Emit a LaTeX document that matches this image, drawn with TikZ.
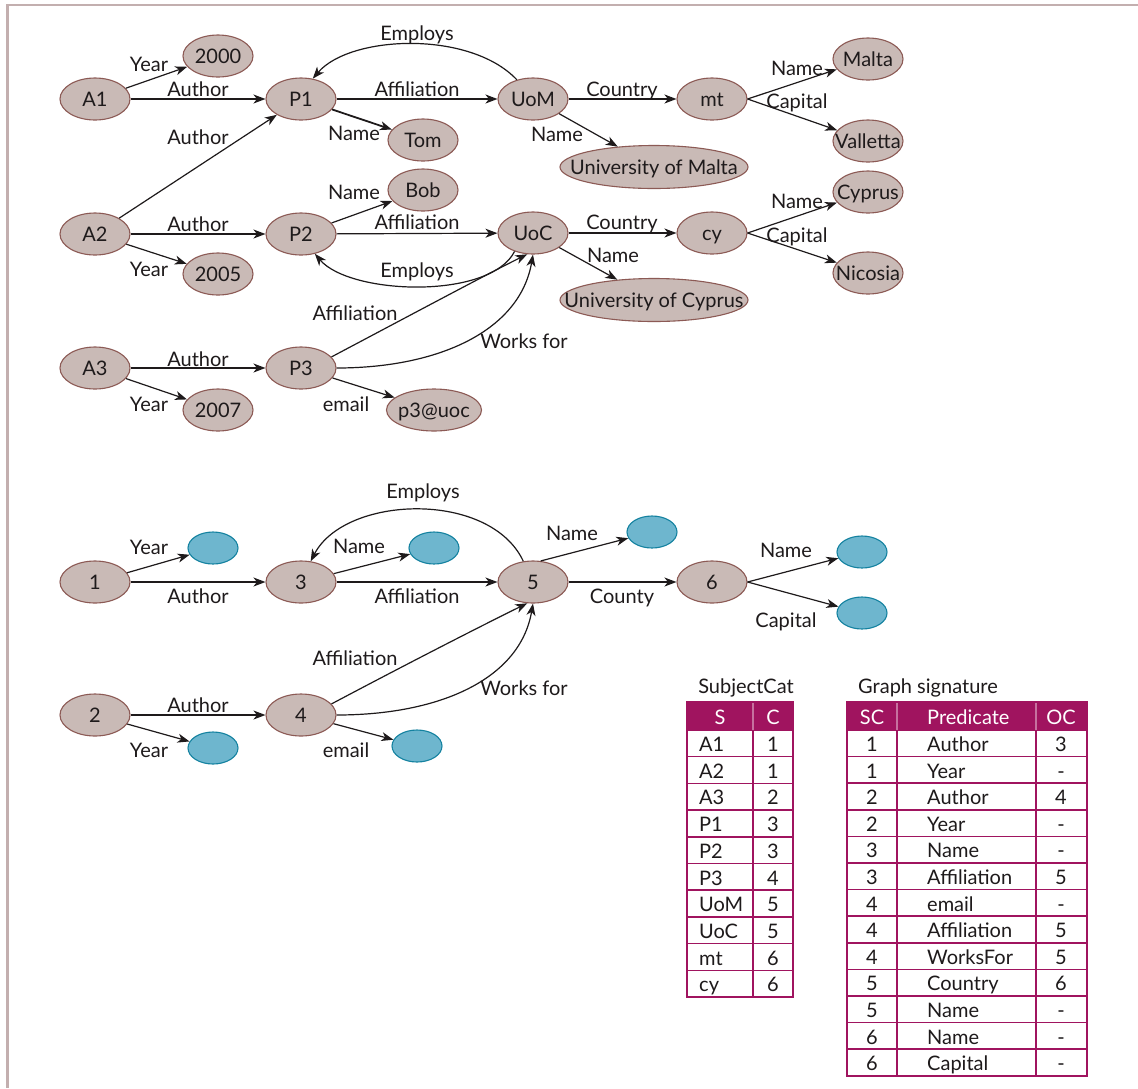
\documentclass[tikz,border=0pt]{standalone}
\usepackage{fontspec}
\setmainfont{Lato}
\usetikzlibrary{shapes.geometric,arrows.meta}
\definecolor{nodefill}{HTML}{C9BAB6}
\definecolor{nodeborder}{HTML}{8C5A55}
\definecolor{bluefill}{HTML}{6EB6CE}
\definecolor{blueborder}{HTML}{1482A0}
\definecolor{magentac}{HTML}{A0145F}
\definecolor{framec}{HTML}{C3AFAF}
\definecolor{inkc}{HTML}{1E1A1B}
\newcommand\bigfont{\fontsize{20}{24}\selectfont}
\newcommand\zt[1]{\makebox[0pt][c]{#1}}
\begin{document}
\begin{tikzpicture}[x=1pt,y=-1pt,
  gnode/.style={ellipse, draw=nodeborder, fill=nodefill, line width=1.1pt,
    minimum width=70pt, minimum height=42pt, inner sep=0pt,
    text height=14pt, text depth=0pt, font=\bigfont, text=inkc},
  bnode/.style={ellipse, draw=blueborder, fill=bluefill, line width=1.1pt,
    minimum width=50pt, minimum height=32pt, inner sep=0pt},
  arr/.style={-{Stealth[length=12pt,width=9pt,inset=3.5pt]}, line width=1.2pt, draw=inkc},
  lbl/.style={anchor=base, font=\bigfont, inner sep=0pt, text=inkc},
  lblw/.style={anchor=base west, font=\bigfont, inner sep=0pt, text=inkc},
  hdr/.style={anchor=base, font=\bigfont, inner sep=0pt, text=white},
  hdrw/.style={anchor=base west, font=\bigfont, inner sep=0pt, text=white},
  tline/.style={draw=magentac, line width=1.5pt},
  touter/.style={draw=magentac, line width=2pt},
]
\useasboundingbox (0,0) rectangle (1138,1088);
\fill[white] (0,0) rectangle (1138,1088);
\draw[framec, line width=2.5pt] (7.5,1088) -- (7.5,5) -- (1138,5);

% ---------- top graph nodes ----------
\node[gnode] (A1) at (95,99) {\zt{A1}};
\node[gnode] (P1) at (301,99) {\zt{P1}};
\node[gnode] (y2000) at (218,56) {\zt{2000}};
\node[gnode] (Tom) at (423,140) {\zt{Tom}};
\node[gnode] (UoM) at (533,99) {\zt{UoM}};
\node[gnode] (mt) at (712,99) {\zt{mt}};
\node[gnode] (Malta) at (868,59) {\zt{Malta}};
\node[gnode] (Valletta) at (868,141) {\zt{Valletta}};
\node[gnode, minimum width=188pt, minimum height=43pt] (UMalta) at (654,167) {\zt{University of Malta}};
\node[gnode] (A2) at (95,234) {\zt{A2}};
\node[gnode] (P2) at (301,234) {\zt{P2}};
\node[gnode] (Bob) at (423,190) {\zt{Bob}};
\node[gnode] (y2005) at (218,274) {\zt{2005}};
\node[gnode] (UoC) at (533,233) {\zt{UoC}};
\node[gnode] (cy) at (712,233) {\zt{cy}};
\node[gnode] (Cyprus) at (868,192) {\zt{Cyprus}};
\node[gnode] (Nicosia) at (868,273) {\zt{Nicosia}};
\node[gnode, minimum width=188pt, minimum height=43pt] (UCyprus) at (654,300) {\zt{University of Cyprus}};
\node[gnode] (A3) at (95,368) {\zt{A3}};
\node[gnode] (P3) at (301,368) {\zt{P3}};
\node[gnode] (y2007) at (218,410) {\zt{2007}};
\node[gnode, minimum width=95pt] (mail) at (434,410) {\zt{p3@uoc}};

% ---------- top graph edges ----------
\draw[arr] (A1) -- (y2000);
\draw[arr] (A1) -- (P1);
\draw[arr] (A2) -- (P1);
\draw[arr, line width=1.8pt] (P1) -- (Tom);
\draw[arr] (UoM.130) .. controls (470,30) and (350,35) .. (P1.60);
\draw[arr] (P1) -- (UoM);
\draw[arr] (UoM) -- (mt);
\draw[arr] (UoM) -- (UMalta);
\draw[arr] (mt.east) -- (Malta);
\draw[arr] (mt.east) -- (Valletta);
\draw[arr] (A2) -- (P2);
\draw[arr] (A2) -- (y2005);
\draw[arr] (P2) -- (Bob);
\draw[arr] (P2) -- (UoC);
\draw[arr] (UoC.225) .. controls (490,300) and (350,295) .. (P2.305);
\draw[arr] (UoC) -- (cy);
\draw[arr] (UoC) -- (UCyprus);
\draw[arr] (cy.east) -- (Cyprus);
\draw[arr] (cy.east) -- (Nicosia);
\draw[arr] (A3) -- (P3);
\draw[arr] (A3) -- (y2007);
\draw[arr] (P3) -- (mail);
\draw[arr] (P3.20) .. controls (420,310) and (495,270) .. (UoC.255);
\draw[arr] (P3.east) .. controls (440,368) and (520,330) .. (UoC.south);

% ---------- top graph labels ----------
\node[lbl] (t1) at (149,71) {Year};
\node[lbl] (t2) at (198,96) {Author};
\node[lbl] (t3) at (198,144) {Author};
\node[lbl] (t4) at (417,40) {Employs};
\node[lbl] (t5) at (417,96) {Affiliation};
\node[lbl] (t6) at (354,140) {Name};
\node[lbl] (t7) at (622,96) {Country};
\node[lbl] (t8) at (557,141) {Name};
\node[lbl] (t9) at (797,75) {Name};
\node[lbl] (t10) at (797,108) {Capital};
\node[lbl] (t11) at (354,199) {Name};
\node[lbl] (t12) at (417,229) {Affiliation};
\node[lbl] (t13) at (198,231) {Author};
\node[lbl] (t14) at (149,276) {Year};
\node[lbl] (t15) at (417,277) {Employs};
\node[lbl] (t16) at (622,229) {Country};
\node[lbl] (t17) at (613,262) {Name};
\node[lbl] (t18) at (797,208) {Name};
\node[lbl] (t19) at (797,242) {Capital};
\node[lbl] (t20) at (355,320) {Affiliation};
\node[lbl] (t21) at (524,348) {Works for};
\node[lbl] (t22) at (198,366) {Author};
\node[lbl] (t23) at (149,411) {Year};
\node[lbl] (t24) at (346,411) {email};

% ---------- bottom graph nodes ----------
\node[gnode] (c1) at (95,582) {\zt{1}};
\node[gnode] (c3) at (301,582) {\zt{3}};
\node[gnode] (c5) at (533,582) {\zt{5}};
\node[gnode] (c6) at (712,582) {\zt{6}};
\node[gnode] (c2) at (95,715) {\zt{2}};
\node[gnode] (c4) at (301,715) {\zt{4}};
\node[bnode] (bY1) at (213,548) {};
\node[bnode] (bN3) at (434,548) {};
\node[bnode] (bN5) at (652,532) {};
\node[bnode] (bN6) at (862,552) {};
\node[bnode] (bC6) at (862,613) {};
\node[bnode] (bY2) at (213,748) {};
\node[bnode] (bE4) at (417,746) {};

% ---------- bottom graph edges ----------
\draw[arr] (c1) -- (bY1);
\draw[arr] (c1) -- (c3);
\draw[arr] (c3) -- (bN3);
\draw[arr] (c3) -- (c5);
\draw[arr] (c5.115) .. controls (490,490) and (345,495) .. (c3.65);
\draw[arr] (c5.70) -- (bN5);
\draw[arr] (c5) -- (c6);
\draw[arr] (c6.east) -- (bN6);
\draw[arr] (c6.east) -- (bC6);
\draw[arr] (c2) -- (c4);
\draw[arr] (c2) -- (bY2);
\draw[arr] (c4) -- (bE4);
\draw[arr] (c4.20) .. controls (420,657) and (495,619) .. (c5.255);
\draw[arr] (c4.east) .. controls (440,715) and (520,679) .. (c5.south);

% ---------- bottom graph labels ----------
\node[lbl] (u1) at (149,554) {Year};
\node[lbl] (u2) at (423,498) {Employs};
\node[lbl] (u3) at (359,553) {Name};
\node[lbl] (u4) at (198,603) {Author};
\node[lbl] (u5) at (417,603) {Affiliation};
\node[lbl] (u6) at (572,540) {Name};
\node[lbl] (u7) at (622,603) {County};
\node[lbl] (u8) at (786,557) {Name};
\node[lbl] (u9) at (786,627) {Capital};
\node[lbl] (u10) at (355,665) {Affiliation};
\node[lbl] (u11) at (524,695) {Works for};
\node[lbl] (u12) at (198,712) {Author};
\node[lbl] (u13) at (149,757) {Year};
\node[lbl] (u14) at (346,757) {email};

% ---------- SubjectCat table ----------
\node[lbl] (tabA) at (746,693) {SubjectCat};
\fill[magentac] (687,702) rectangle (793,730);
\node[hdr] (hS) at (720,724) {S};
\node[hdr] (hC) at (773,724) {C};
\foreach \s/\c [count=\i] in {A1/1,A2/1,A3/2,P1/3,P2/3,P3/4,UoM/5,UoC/5,mt/6,cy/6} {
  \node[lblw] (sS\i) at (699,{730+(\i-1)*26.7+21.5}) {\s};
  \node[lbl] (sC\i) at (773,{730+(\i-1)*26.7+21.5}) {\c};
}
\foreach \i in {0,...,9} \draw[tline] (687,{730+\i*26.7}) -- (793,{730+\i*26.7});
\draw[tline] (753,730) -- (753,997);
\draw[draw=magentac!60!white, line width=1.2pt] (753,702) -- (753,730);
\draw[touter] (687,702) rectangle (793,997);

% ---------- Graph signature table ----------
\node[lbl] (tabB) at (928,693) {Graph signature};
\fill[magentac] (847,702) rectangle (1087,730);
\node[hdr] (hSC) at (872,724) {SC};
\node[hdrw] (hP) at (927,724) {Predicate};
\node[hdr] (hOC) at (1061,724) {OC};
\foreach \a/\p/\o [count=\i] in {1/Author/3,1/Year/-,2/Author/4,2/Year/-,3/Name/-,3/Affiliation/5,4/email/-,4/Affiliation/5,4/WorksFor/5,5/Country/6,5/Name/-,6/Name/-,6/Capital/-} {
  \node[lbl] (gA\i) at (872,{730+(\i-1)*26.6+21.5}) {\a};
  \node[lblw] (gP\i) at (927,{730+(\i-1)*26.6+21.5}) {\p};
  \node[lbl] (gO\i) at (1061,{730+(\i-1)*26.6+21.5}) {\o};
}
\foreach \i in {0,...,12} \draw[tline] (847,{730+\i*26.6}) -- (1087,{730+\i*26.6});
\draw[tline] (897,730) -- (897,1075.8);
\draw[tline] (1036,730) -- (1036,1075.8);
\draw[draw=magentac!60!white, line width=1.2pt] (897,702) -- (897,730);
\draw[draw=magentac!60!white, line width=1.2pt] (1036,702) -- (1036,730);
\draw[touter] (847,702) rectangle (1087,1075.8);
\end{tikzpicture}
\end{document}
